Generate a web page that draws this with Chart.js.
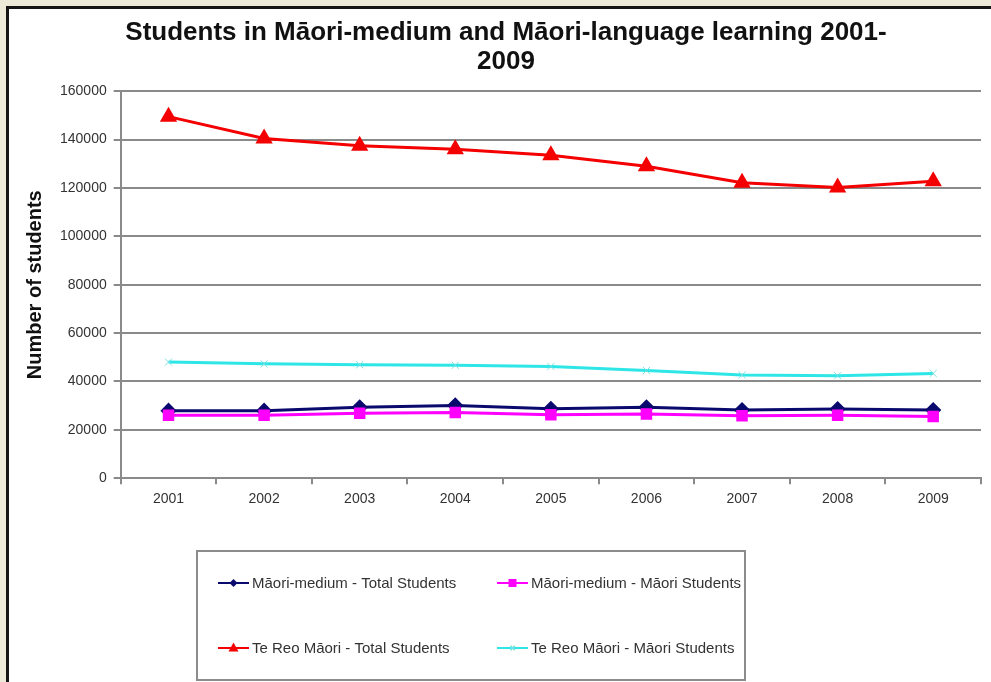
<!DOCTYPE html>
<html>
<head>
<meta charset="utf-8">
<script src="https://cdn.jsdelivr.net/npm/chart.js"></script>
<style>
  html, body { margin: 0; padding: 0; width: 991px; height: 682px; overflow: hidden; background: #ece9d9; }
  #panel { position: absolute; left: 6px; top: 6px; width: 985px; height: 676px; background: #ffffff;
           border-left: 3px solid #141414; border-top: 3px solid #141414; overflow: hidden; }
  #wrap { position: absolute; left: 0; top: 0; width: 982px; height: 673px; }
</style>
</head>
<body>
<div id="panel"><div id="wrap"><canvas id="c"></canvas></div></div>
<script>
// ---- data ----
const years = ['2001', '2002', '2003', '2004', '2005', '2006', '2007', '2008', '2009'];
const maoriMediumTotal = [27900, 27900, 29300, 30100, 28700, 29300, 28200, 28600, 28200];
const maoriMediumMaori = [26000, 26000, 26900, 27200, 26200, 26500, 25800, 26000, 25500];
const teReoTotal = [149500, 140500, 137500, 136000, 133500, 129000, 122200, 120200, 122800];
const teReoMaori = [48000, 47300, 46900, 46700, 46200, 44500, 42700, 42400, 43300];
const yTickValues = [0, 20000, 40000, 60000, 80000, 100000, 120000, 140000, 160000];
const titleLines = ['Students in M\u0101ori-medium and M\u0101ori-language learning 2001-', '2009'];
const yTitle = 'Number of students';
const seriesNames = [
  'M\u0101ori-medium - Total Students',
  'M\u0101ori-medium - M\u0101ori Students',
  'Te Reo M\u0101ori - Total Students',
  'Te Reo M\u0101ori - M\u0101ori Students'
];

const FONT = '"Liberation Sans", Arial, sans-serif';

function drawMarker(ctx, style, x, y, r) {
  ctx.beginPath();
  if (style === 'triangle') {
    ctx.moveTo(x, y - r * 1.1);
    ctx.lineTo(x + r, y + r * 0.7);
    ctx.lineTo(x - r, y + r * 0.7);
    ctx.closePath(); ctx.fill();
  } else if (style === 'rect') {
    ctx.rect(x - r, y - r, 2 * r, 2 * r); ctx.fill();
  } else if (style === 'rectRot') {
    ctx.moveTo(x, y - r); ctx.lineTo(x + r, y); ctx.lineTo(x, y + r); ctx.lineTo(x - r, y);
    ctx.closePath(); ctx.fill();
  } else if (style === 'crossRot') {
    ctx.moveTo(x - r * 0.7, y - r * 0.7); ctx.lineTo(x + r * 0.7, y + r * 0.7);
    ctx.moveTo(x + r * 0.7, y - r * 0.7); ctx.lineTo(x - r * 0.7, y + r * 0.7);
    ctx.stroke();
  }
}

const boxLegend = {
  id: 'boxLegend',
  afterDraw(chart, args, opts) {
    const ctx = chart.ctx;
    ctx.save();
    ctx.strokeStyle = opts.borderColor;
    ctx.lineWidth = 2;
    ctx.strokeRect(opts.box.x, opts.box.y, opts.box.w, opts.box.h);
    ctx.font = opts.fontSize + 'px ' + FONT;
    ctx.textBaseline = 'middle';
    ctx.textAlign = 'left';
    chart.data.datasets.forEach((ds, i) => {
      const x = opts.cols[i % 2];
      const y = opts.rows[Math.floor(i / 2)];
      ctx.strokeStyle = ds.borderColor;
      ctx.lineWidth = 2;
      ctx.beginPath();
      ctx.moveTo(x, y);
      ctx.lineTo(x + opts.lineLen, y);
      ctx.stroke();
      ctx.fillStyle = ds.pointBackgroundColor;
      ctx.strokeStyle = ds.pointBorderColor;
      ctx.lineWidth = 1.5;
      drawMarker(ctx, ds.pointStyle, x + opts.lineLen / 2, y, ds.legendMarker);
      ctx.fillStyle = opts.color;
      ctx.fillText(ds.label, x + opts.lineLen + 3, y + 1);
    });
    ctx.restore();
  }
};

new Chart(document.getElementById('c'), {
  type: 'line',
  data: {
    labels: years,
    datasets: [
      {
        label: seriesNames[0], data: maoriMediumTotal,
        borderColor: '#0a0a6e', backgroundColor: '#0a0a6e',
        pointBackgroundColor: '#0a0a6e', pointBorderColor: '#0a0a6e',
        borderWidth: 3, pointStyle: 'rectRot', pointRadius: 6, legendMarker: 4,
        order: 4
      },
      {
        label: seriesNames[1], data: maoriMediumMaori,
        borderColor: '#ff00ff', backgroundColor: '#ff00ff',
        pointBackgroundColor: '#ff00ff', pointBorderColor: '#ff00ff',
        borderWidth: 3, pointStyle: 'rect', pointRadius: 6, legendMarker: 4,
        order: 3
      },
      {
        label: seriesNames[2], data: teReoTotal,
        borderColor: '#f40000', backgroundColor: '#f40000',
        pointBackgroundColor: '#f40000', pointBorderColor: '#f40000',
        borderWidth: 3, pointStyle: 'triangle', pointRadius: 7, legendMarker: 5,
        order: 2
      },
      {
        label: seriesNames[3], data: teReoMaori,
        borderColor: '#2ee6e6', backgroundColor: '#2ee6e6',
        pointBackgroundColor: '#2ee6e6', pointBorderColor: '#7ae0e0',
        borderWidth: 3, pointStyle: 'crossRot', pointRadius: 5, pointBorderWidth: 1,
        legendMarker: 3, order: 1
      }
    ]
  },
  options: {
    responsive: true,
    maintainAspectRatio: false,
    animation: false,
    layout: { padding: { left: 12, right: 0, top: 0, bottom: 167 } },
    elements: { line: { tension: 0 } },
    plugins: {
      legend: { display: false },
      tooltip: { enabled: false },
      title: {
        display: true,
        text: titleLines,
        color: '#111',
        font: { family: FONT, size: 26, weight: 'bold', lineHeight: 1.12 },
        padding: { top: 9, bottom: 15 }
      },
      boxLegend: {
        box: { x: 188, y: 542, w: 548, h: 129 },
        cols: [209, 488],
        rows: [574, 639],
        lineLen: 31,
        fontSize: 15,
        color: '#333',
        borderColor: '#8c8c8c'
      }
    },
    scales: {
      x: {
        offset: true,
        grid: { display: true, drawOnChartArea: false, drawTicks: true, tickLength: 6, offset: true, color: '#8a8a8a', lineWidth: 2 },
        border: { display: true, color: '#8a8a8a', width: 2 },
        ticks: { color: '#333', font: { family: FONT, size: 14 }, padding: 7, maxRotation: 0, autoSkip: false }
      },
      y: {
        min: 0, max: 160000,
        afterBuildTicks: (s) => { s.ticks = yTickValues.map(v => ({ value: v })); },
        grid: { color: '#8a8a8a', lineWidth: 2, tickLength: 7, drawTicks: true },
        border: { display: true, color: '#8a8a8a', width: 2 },
        ticks: { color: '#333', font: { family: FONT, size: 14 }, padding: 7, callback: (v) => String(v) },
        title: {
          display: true, text: yTitle, color: '#111',
          font: { family: FONT, size: 20, weight: 'bold', lineHeight: 1.2 },
          padding: { top: 2, bottom: 6 }
        }
      }
    }
  },
  plugins: [boxLegend]
});
</script>
</body>
</html>
